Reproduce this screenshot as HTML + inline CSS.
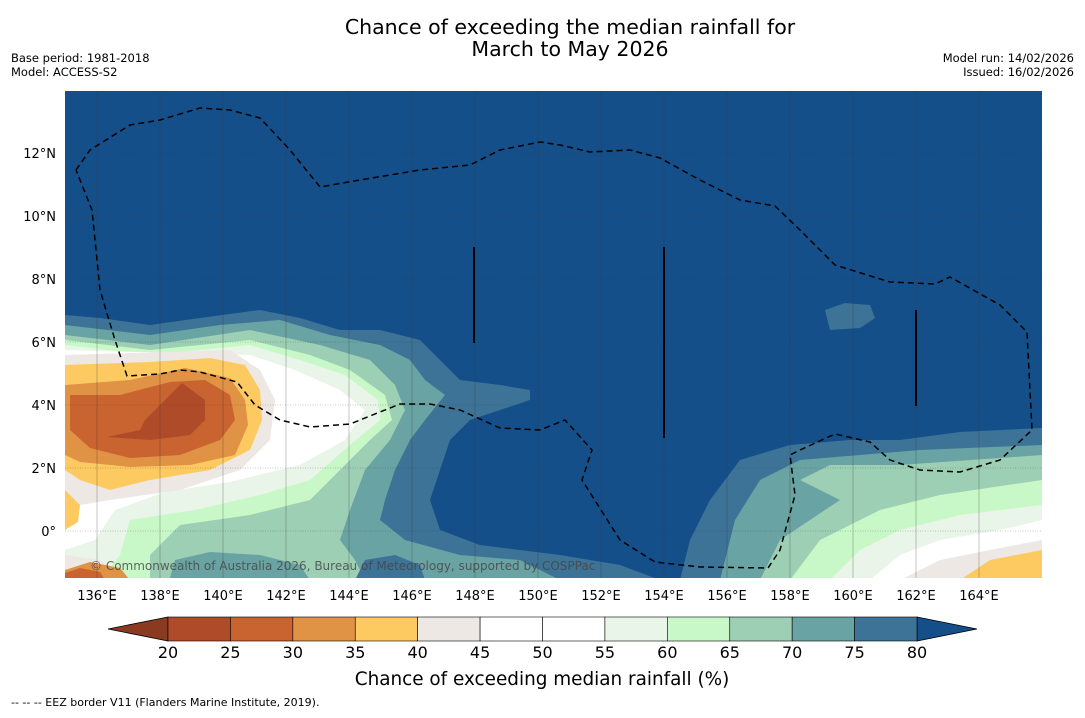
<!DOCTYPE html>
<html><head><meta charset="utf-8"><style>
body{margin:0;background:#fff;font-family:"Liberation Sans","DejaVu Sans",sans-serif}
svg text{font-family:"DejaVu Sans","Liberation Sans",sans-serif}
</style></head><body>
<svg width="1085" height="713" viewBox="0 0 1085 713" xmlns="http://www.w3.org/2000/svg">
<text x="570" y="34" text-anchor="middle" font-size="20.5">Chance of exceeding the median rainfall for</text>
<text x="570" y="56" text-anchor="middle" font-size="20.5">March to May 2026</text>
<text x="11" y="62" font-size="11.5">Base period: 1981-2018</text>
<text x="11" y="76" font-size="11.5">Model: ACCESS-S2</text>
<text x="1074" y="62" font-size="11.5" text-anchor="end">Model run: 14/02/2026</text>
<text x="1074" y="76" font-size="11.5" text-anchor="end">Issued: 16/02/2026</text>
<defs><clipPath id="mc"><rect x="65" y="91" width="977" height="487"/></clipPath></defs>
<g clip-path="url(#mc)">
<rect x="65" y="91" width="977" height="487" fill="#154f8a"/>
<g id="layers">
<polygon fill="#3d7396" points="65,315 100,318 150,325 200,318 260,310 300,318 340,330 380,330 420,340 440,360 460,380 500,385 530,390 530,400 500,410 470,420 450,440 440,470 430,500 440,530 480,545 560,555 620,565 660,580 65,580"/>
<polygon fill="#3d7396" points="680,580 690,540 710,500 740,460 790,445 850,440 900,440 960,432 1042,428 1042,580"/>
<polygon fill="#3d7396" points="825,310 845,303 870,305 875,318 860,328 830,330"/>
<polygon fill="#6aa3a3" points="65,325 150,335 220,325 280,320 330,335 380,345 410,360 425,380 445,395 425,420 410,440 395,470 385,500 380,520 405,540 460,555 520,560 560,580 65,580"/>
<polygon fill="#6aa3a3" points="720,580 735,520 760,480 800,460 860,455 920,450 1042,445 1042,580"/>
<polygon fill="#9ccfb4" points="65,335 150,345 250,330 320,345 370,360 395,385 405,410 390,440 365,470 350,510 340,540 355,560 365,580 65,580"/>
<polygon fill="#9ccfb4" points="760,580 780,540 840,500 800,480 830,465 900,465 1042,455 1042,580"/>
<polygon fill="#c8f8c8" points="65,340 150,350 250,340 310,355 350,370 385,395 392,420 370,440 340,470 310,500 250,515 180,525 150,555 150,580 65,580"/>
<polygon fill="#c8f8c8" points="790,580 820,540 880,510 940,495 1042,480 1042,580"/>
<polygon fill="#9ccfb4" points="150,578 160,550 200,540 250,545 300,550 330,565 340,580"/>
<polygon fill="#6aa3a3" points="170,578 175,560 210,552 260,555 300,565 310,580"/>
<polygon fill="#3d7396" points="355,580 365,560 395,555 420,565 425,580"/>
<polygon fill="#e8f5e8" points="65,345 150,355 250,345 300,360 345,375 378,400 380,420 350,445 310,480 260,495 195,510 130,520 120,555 100,580 65,580"/>
<polygon fill="#e8f5e8" points="830,580 860,550 900,530 960,515 1042,505 1042,580"/>
<polygon fill="#ffffff" points="65,350 250,355 295,370 340,390 365,410 345,440 300,465 230,482 165,492 115,510 95,540 65,550"/>
<polygon fill="#ffffff" points="870,580 900,555 940,540 1000,530 1042,520 1042,580"/>
<polygon fill="#ede8e3" points="65,355 230,350 260,370 275,400 270,440 240,470 180,490 110,500 80,505 65,500"/>
<polygon fill="#ede8e3" points="900,580 940,560 1000,548 1042,540 1042,580"/>
<polygon fill="#ede8e3" points="65,555 100,560 130,580 65,580"/>
<polygon fill="#fdca62" points="65,365 150,362 210,358 245,365 260,390 262,420 250,450 210,470 150,480 110,490 80,480 65,470"/>
<polygon fill="#fdca62" points="960,580 990,560 1042,550 1042,580"/>
<polygon fill="#fdca62" points="65,490 80,505 78,522 65,530"/>
<polygon fill="#e09245" points="65,570 90,562 120,568 130,580 65,580"/>
<polygon fill="#e09245" points="65,385 130,380 185,368 230,378 245,400 248,425 235,455 190,465 130,467 80,462 65,455"/>
<polygon fill="#c96330" points="70,395 120,395 170,382 205,380 230,395 235,420 220,440 180,455 130,458 90,448 70,430"/>
<polygon fill="#c96330" points="65,573 80,568 100,572 105,580 65,580"/>
<polygon fill="#b04b2a" points="107,437 140,430 145,420 165,400 182,383 205,400 205,420 190,435 150,440"/>
</g>
<g id="grid" stroke="#333" stroke-opacity="0.35" stroke-width="0.8"></g>
<polyline fill="none" stroke="#000" stroke-width="1.5" stroke-dasharray="6,4" points="76,170 90,150 130,125 160,120 200,108 230,110 260,118 290,150 320,187 360,180 420,170 470,165 480,160 500,150 540,142 560,145 590,152 630,150 660,158 700,180 740,200 775,206 800,230 835,265 890,282 935,284 950,277 1000,305 1027,332 1032,430 1000,460 960,472 920,470 890,460 870,442 835,434 800,450 790,455 795,495 780,550 768,568 700,567 655,562 620,540 582,480 592,450 565,420 540,430 500,428 460,410 430,404 400,404 380,412 350,424 310,427 280,420 255,405 237,382 200,372 180,370 160,374 127,376 115,340 100,290 92,210 76,170"/>
<line x1="474" y1="247" x2="474" y2="343" stroke="#000" stroke-width="2"/>
<line x1="664" y1="247" x2="664" y2="438" stroke="#000" stroke-width="2"/>
<line x1="916" y1="310" x2="916" y2="406" stroke="#000" stroke-width="2"/>
<text x="90" y="570" font-size="12" fill="#444" fill-opacity="0.8">© Commonwealth of Australia 2026, Bureau of Meteorology, supported by COSPPac</text>
</g>
<g id="ticks" font-size="13"></g>
<g id="cbar"></g>
<text x="542" y="685" text-anchor="middle" font-size="18.4">Chance of exceeding median rainfall (%)</text>
<text x="11" y="706" font-size="11">--  --  -- EEZ border V11 (Flanders Marine Institute, 2019).</text>
</svg>
<script>
const binEdges=[20,25,30,35,40,45,50,55,60,65,70,75,80];
const binColors=["#b04b2a","#c96330","#e09245","#fdca62","#ede8e3","#ffffff","#ffffff","#e8f5e8","#c8f8c8","#9ccfb4","#6aa3a3","#3d7396"];
const underColor="#8b3a22", overColor="#154f8a";
const lonTicks=[136,138,140,142,144,146,148,150,152,154,156,158,160,162,164];
const latTicks=[0,2,4,6,8,10,12];
const NS="http://www.w3.org/2000/svg";
const X=lon=>97+(lon-136)*31.5, Y=lat=>531-lat*31.5;
const CX=v=>168+(v-20)*(917-168)/60;
function mk(t,a,p){const e=document.createElementNS(NS,t);for(const k in a)e.setAttribute(k,a[k]);p.appendChild(e);return e;}
const grid=document.getElementById('grid'),ticks=document.getElementById('ticks'),cb=document.getElementById('cbar');
lonTicks.forEach(l=>{const ln=mk('line',{x1:X(l),x2:X(l),y1:91,y2:578},grid);


const t=mk('text',{x:X(l),y:600,'text-anchor':'middle'},ticks);t.textContent=l+'°E';

});
latTicks.forEach(l=>{const ln=mk('line',{x1:65,x2:1042,y1:Y(l),y2:Y(l),'stroke-dasharray':'1,1.5'},grid);


const t=mk('text',{x:56,y:Y(l)+5,'text-anchor':'end'},ticks);t.textContent=l===0?'0°':l+'°N';

});
const y0=617,h=24;
const lt=mk('polygon',{points:`${CX(20)},${y0} 108,${y0+h/2} ${CX(20)},${y0+h}`,fill:underColor,stroke:'#000','stroke-width':0.8},cb);


const rt=mk('polygon',{points:`${CX(80)},${y0} 977,${y0+h/2} ${CX(80)},${y0+h}`,fill:overColor,stroke:'#000','stroke-width':0.8},cb);


binColors.forEach((c,i)=>{const r=mk('rect',{x:CX(binEdges[i]),y:y0,width:CX(binEdges[i+1])-CX(binEdges[i]),height:h,fill:c,stroke:'#000','stroke-width':0.6},cb);

});
binEdges.forEach(v=>{const t=mk('text',{x:CX(v),y:658,'text-anchor':'middle','font-size':16},cb);t.textContent=v;

});
</script>
</body></html>
